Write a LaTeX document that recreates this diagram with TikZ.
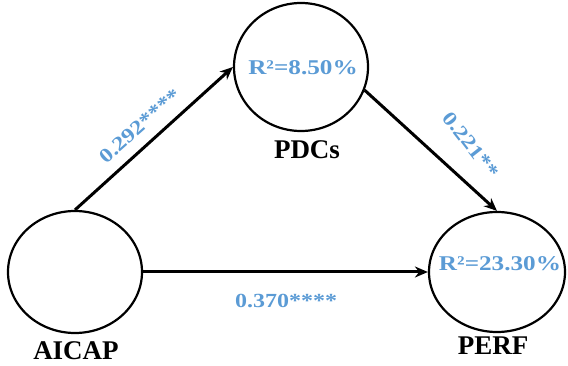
\documentclass[tikz,border=0pt]{standalone}
\usepackage{fontspec}
\setmainfont{Liberation Serif}
\newfontfamily\bluefont[FakeStretch=1.2]{Liberation Serif}
\usetikzlibrary{shapes.geometric,arrows.meta}
\definecolor{lblblue}{RGB}{91,155,213}
\tikzset{
  latent/.style={draw=black,line width=2.2pt,ellipse,inner sep=0pt},
  conn/.style={line width=3pt,-{Stealth[length=13pt,width=11pt]}},
  coef/.style={text=lblblue,font=\bluefont\bfseries\fontsize{20}{20}\selectfont,inner sep=0pt},
  rsq/.style={text=lblblue,font=\bluefont\bfseries\fontsize{21}{21}\selectfont,inner sep=0pt},
  varlabel/.style={font=\bfseries\fontsize{27}{27}\selectfont,inner sep=0pt}
}
\begin{document}
\begin{tikzpicture}[x=1pt,y=-1pt]
\useasboundingbox (0,0) rectangle (568,366);
\node[latent,minimum width=134pt,minimum height=122pt] (A) at (75,272) {};
\node[latent,minimum width=134pt,minimum height=128pt] (P) at (301,67) {};
\node[latent,minimum width=136pt,minimum height=120pt] (F) at (497,272) {};
\node[rsq] (rp) at (303,68) {R²=8.50\%};
\node[rsq] (rf) at (500,264) {R²=23.30\%};
\node[varlabel] (nA) at (76,351) {AICAP};
\node[varlabel] (nP) at (307,150) {PDCs};
\node[varlabel] (nF) at (493,346) {PERF};
\draw[conn] (A.north) -- (P.west);
\draw[conn] (P.-20) -- (F.north);
\draw[conn] (A.east) -- (F.west);
\node[coef,rotate=41.5] (c1) at (140,126) {0.292****};
\node[coef,rotate=-52] (c2) at (471,145) {0.221**};
\node[coef] (c3) at (286,301) {0.370****};
\end{tikzpicture}
\end{document}
